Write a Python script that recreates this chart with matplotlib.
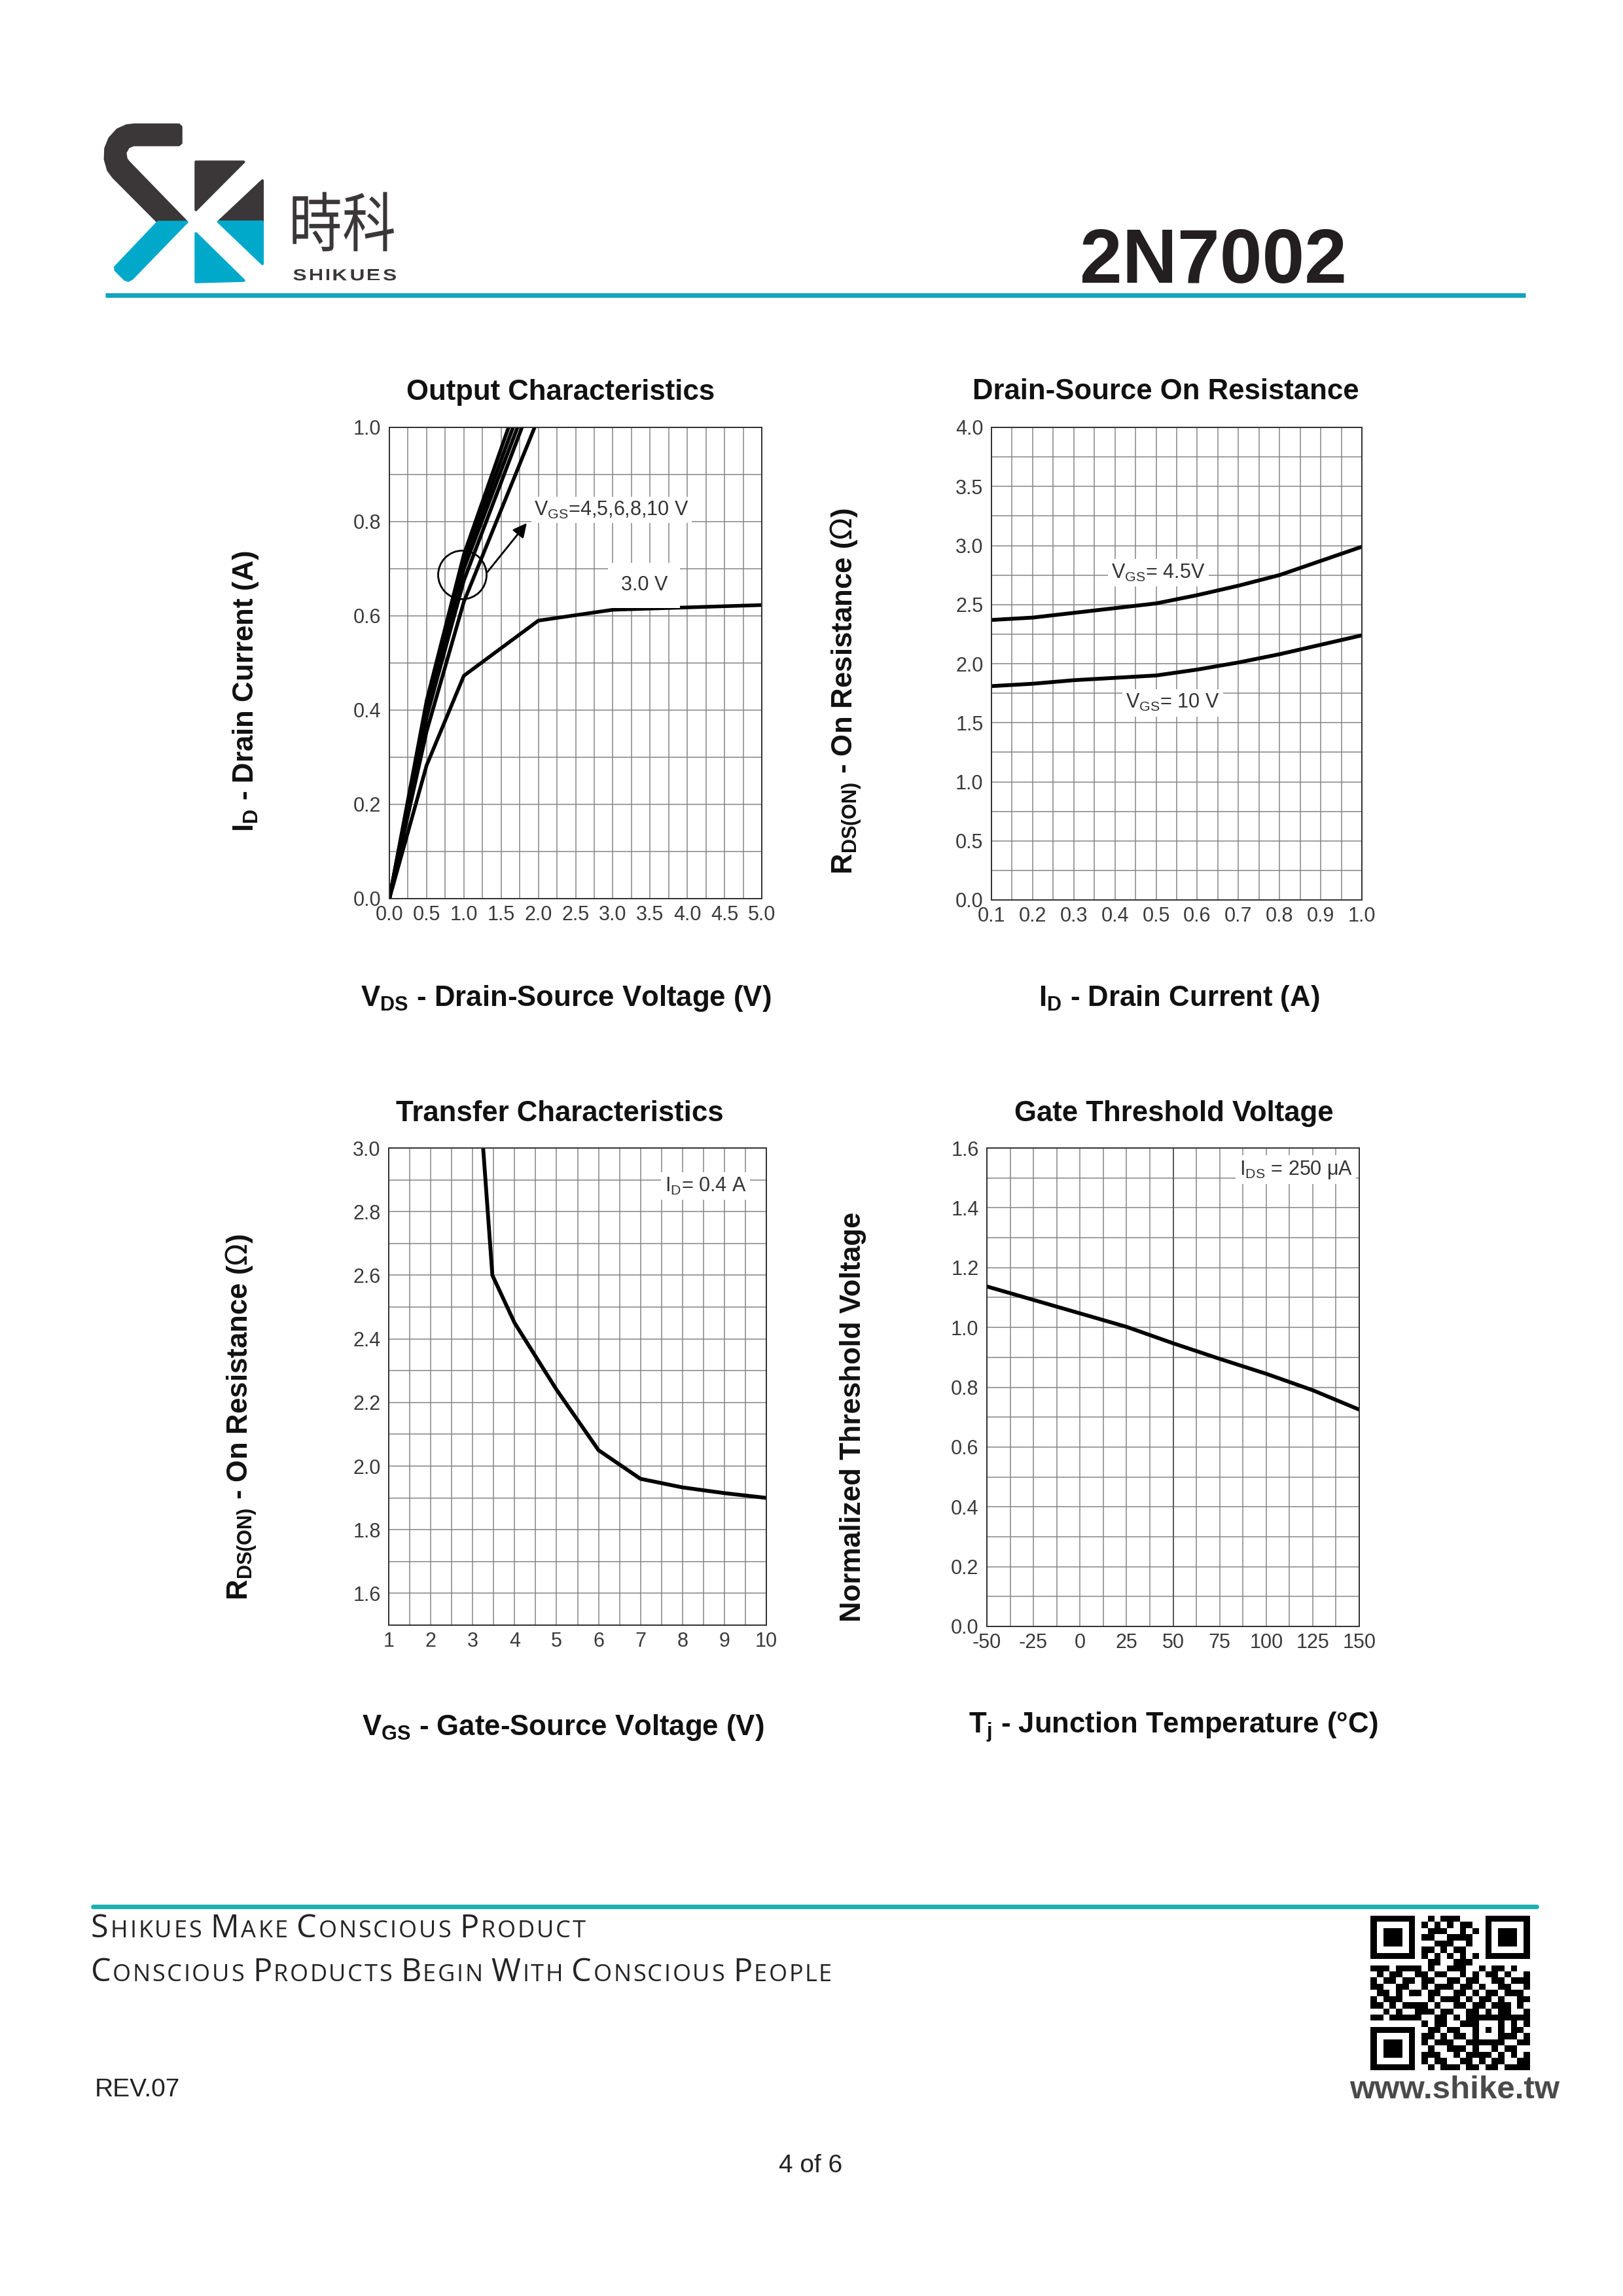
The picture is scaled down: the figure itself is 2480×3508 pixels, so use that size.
import matplotlib
matplotlib.use("Agg")
import matplotlib.pyplot as plt
import numpy as np
from matplotlib import font_manager
from matplotlib.font_manager import FontProperties
from matplotlib.patches import Ellipse, Polygon, PathPatch
from matplotlib.textpath import TextPath
from matplotlib.transforms import Affine2D

W, H, DPI = 2480, 3508, 100

_avail = {f.name for f in font_manager.fontManager.ttflist}
SANS = "Liberation Sans"
NARROW = "Liberation Sans Narrow" if "Liberation Sans Narrow" in _avail else SANS
CJK = "Noto Sans CJK TC"
FOOT = "Open Sans" if "Open Sans" in _avail else SANS

# ---- chart data ---------------------------------------------------------------

# Output characteristics: VDS (V) -> ID (A)
out_vds_3v = [0.0, 0.5, 1.0, 2.0, 3.0, 5.0]
out_id_3v = [0.0, 0.283, 0.473, 0.59, 0.613, 0.623]
out_vds_4v = [0.0, 0.5, 1.0, 1.95]
out_id_4v = [0.0, 0.355, 0.63, 1.0]
out_vds_5v = [0.0, 0.5, 1.0, 1.78]
out_id_5v = [0.0, 0.385, 0.675, 1.0]
out_vds_6v = [0.0, 0.5, 1.0, 1.72]
out_id_6v = [0.0, 0.40, 0.70, 1.0]
out_vds_8v = [0.0, 0.5, 1.0, 1.66]
out_id_8v = [0.0, 0.41, 0.715, 1.0]
out_vds_10v = [0.0, 0.5, 1.0, 1.60]
out_id_10v = [0.0, 0.42, 0.73, 1.0]

# Drain-source on resistance: ID (A) -> RDS(on) (ohm)
ron_id = [0.1, 0.2, 0.3, 0.4, 0.5, 0.6, 0.7, 0.8, 0.9, 1.0]
ron_vgs45 = [2.37, 2.39, 2.43, 2.47, 2.51, 2.58, 2.66, 2.75, 2.87, 2.99]
ron_vgs10 = [1.81, 1.83, 1.86, 1.88, 1.90, 1.95, 2.01, 2.08, 2.16, 2.24]

# Transfer characteristics: VGS (V) -> RDS(on) (ohm)
tr_vgs = [3.25, 3.47, 4.0, 5.0, 6.0, 7.0, 8.0, 9.0, 10.0]
tr_ron = [3.0, 2.60, 2.45, 2.24, 2.05, 1.96, 1.933, 1.915, 1.90]

# Gate threshold voltage: Tj (C) -> normalized VGS(th)
gt_tj = [-50, -25, 0, 25, 50, 75, 100, 125, 150]
gt_vth = [1.137, 1.092, 1.047, 1.002, 0.947, 0.895, 0.845, 0.79, 0.725]

# tick labels
out_xlabels = ["0.0", "0.5", "1.0", "1.5", "2.0", "2.5", "3.0", "3.5", "4.0", "4.5", "5.0"]
out_ylabels = ["0.0", "0.2", "0.4", "0.6", "0.8", "1.0"]
ron_xlabels = ["0.1", "0.2", "0.3", "0.4", "0.5", "0.6", "0.7", "0.8", "0.9", "1.0"]
ron_ylabels = ["0.0", "0.5", "1.0", "1.5", "2.0", "2.5", "3.0", "3.5", "4.0"]
tr_xlabels = ["1", "2", "3", "4", "5", "6", "7", "8", "9", "10"]
tr_ylabels = ["1.6", "1.8", "2.0", "2.2", "2.4", "2.6", "2.8", "3.0"]
gt_xlabels = ["-50", "-25", "0", "25", "50", "75", "100", "125", "150"]
gt_ylabels = ["0.0", "0.2", "0.4", "0.6", "0.8", "1.0", "1.2", "1.4", "1.6"]

# QR code data modules (finder / timing / alignment drawn on top)
qr_rows = [
    "0000000001011100000000000",
    "0000000010101011000000000",
    "0000000001110010100000000",
    "0000000011001111000000000",
    "0000000000111001000000000",
    "0000000011010110000000000",
    "0000000000000000000000000",
    "0000000001100111000000000",
    "1110110101001110010110100",
    "0101100110110010101101001",
    "1011011011001101100110111",
    "1100110010111011010011001",
    "0110101101100110101101110",
    "1011100001011101011010011",
    "1101011110100110110111010",
    "0010100111011001101011001",
    "1101111100110101001111111",
    "0000000010110011100110101",
    "0000000001101100101010110",
    "0000000011010110100101101",
    "0000000010111001101110011",
    "0000000001001110100101100",
    "0000000011100101111010101",
    "0000000010110011010110011",
    "0000000001011101101101111",
]

DARK = "#3b3738"
CYAN = "#00a9ca"
TICK_C = "#3a3a3a"
GRID_C = "#858585"


def fx(px):
    return px / W


def fy(py):
    return 1 - py / H


fig = plt.figure(figsize=(W / DPI, H / DPI), dpi=DPI)
fig.patch.set_facecolor("white")
renderer = fig.canvas.get_renderer()


# ---- header -------------------------------------------------------------------

logo = fig.add_axes([fx(140), fy(480), 520 / W, 320 / H])
logo.set_xlim(0, 1560)
logo.set_ylim(960, 0)
logo.axis("off")

s_dark = [(400, 92), (410, 102), (410, 175), (400, 184), (192, 184), (168, 194),
          (154, 220), (158, 248), (170, 264), (436, 538), (305, 538), (100, 332),
          (76, 300), (62, 250), (64, 200), (82, 155), (118, 115), (160, 96), (195, 92)]
s_cyan = [(305, 538), (436, 538), (186, 796), (168, 806), (152, 800), (110, 758), (108, 745)]
tri_dark_a = [(478, 262), (697, 262), (478, 482)]
tri_dark_b = [(782, 348), (782, 538), (582, 538)]
tri_cyan_a = [(582, 538), (782, 538), (782, 728)]
tri_cyan_b = [(478, 590), (478, 812), (698, 806)]
for pts, col in [(s_dark, DARK), (s_cyan, CYAN), (tri_dark_a, DARK), (tri_dark_b, DARK),
                 (tri_cyan_a, CYAN), (tri_cyan_b, CYAN)]:
    logo.add_patch(Polygon(pts, closed=True, facecolor=col, edgecolor=col,
                           lw=3, joinstyle="round"))


def fit_text_path(ax, text, prop, box, color):
    """Place a text outline so it fills box=(x0, y0, x1, y1) in data coords (y down)."""
    tp = TextPath((0, 0), text, prop=prop, size=100)
    ext = tp.get_extents()
    x0, y0, x1, y1 = box
    sx = (x1 - x0) / ext.width
    sy = (y1 - y0) / ext.height
    tr = Affine2D().translate(-ext.x0, -ext.y1).scale(sx, -sy).translate(x0, y0)
    ax.add_patch(PathPatch(tr.transform_path(tp), facecolor=color, edgecolor="none"))


fit_text_path(logo, "時科", FontProperties(family=CJK, weight="medium"),
              (922, 400, 1386, 672), DARK)

# SHIKUES, wide letters with tracking
_letters = "SHIKUES"
_prop = FontProperties(family=SANS, weight="bold")
_paths = [TextPath((0, 0), ch, prop=_prop, size=100) for ch in _letters]
_cap = 52.0
_scale = _cap / max(p.get_extents().height for p in _paths)
_stretch = 1.3
_widths = [p.get_extents().width * _scale * _stretch for p in _paths]
_gap = (1395 - 925 - sum(_widths)) / (len(_letters) - 1)
_x = 925
for p, w in zip(_paths, _widths):
    e = p.get_extents()
    tr = (Affine2D().translate(-e.x0, 0).scale(_scale * _stretch, -_scale)
          .translate(_x, 805))
    logo.add_patch(PathPatch(tr.transform_path(p), facecolor=DARK, edgecolor="none"))
    _x += w + _gap

fig.text(fx(2058), fy(432), "2N7002", fontsize=84, fontweight="bold", family=SANS,
         color="#231f20", ha="right", va="baseline")

fig.add_artist(plt.Line2D([fx(161), fx(2331)], [fy(451), fy(451)], color="#12a3be",
                          lw=5, solid_capstyle="butt"))


# ---- charts -------------------------------------------------------------------

def add_chart(left, top, right, bottom):
    return fig.add_axes([fx(left), fy(bottom), (right - left) / W, (bottom - top) / H])


def style_chart(ax, xlim, ylim, xmaj, xmin, ymaj, ymin, xlabels, ylabels):
    ax.set_xlim(*xlim)
    ax.set_ylim(*ylim)
    ax.set_xticks(xmaj)
    ax.set_xticklabels(xlabels)
    ax.set_xticks(xmin, minor=True)
    ax.set_yticks(ymaj)
    ax.set_yticklabels(ylabels)
    ax.set_yticks(ymin, minor=True)
    ax.grid(True, which="both", color=GRID_C, lw=1.1)
    ax.set_axisbelow(True)
    ax.tick_params(which="both", length=0)
    ax.tick_params(axis="x", pad=7, labelsize=22, labelcolor=TICK_C)
    ax.tick_params(axis="y", pad=9, labelsize=22, labelcolor=TICK_C)
    for lab in ax.get_xticklabels() + ax.get_yticklabels():
        lab.set_family(NARROW)
    for s in ax.spines.values():
        s.set_color("#303030")
        s.set_linewidth(1.4)


def chart_texts(title, tx, ty, ylabel, yx, yy, xlabel, xx, xy):
    kw = dict(fontsize=31.5, fontweight="bold", family=SANS, ha="center", va="center",
              color="#111111")
    fig.text(fx(tx), fy(ty), title, **kw)
    fig.text(fx(yx), fy(yy), ylabel, rotation=90, **kw)
    fig.text(fx(xx), fy(xy), xlabel, **kw)


note_kw = dict(fontsize=22, family=NARROW, color="#333333", ha="center", va="center")

# Output characteristics
ax1 = add_chart(595, 653, 1164, 1373)
style_chart(ax1, (0, 5), (0, 1.0), np.arange(0, 5.01, 0.5), np.arange(0, 5.01, 0.25),
            np.arange(0, 1.01, 0.2), np.arange(0, 1.01, 0.1), out_xlabels, out_ylabels)
for xs, ys in [(out_vds_4v, out_id_4v), (out_vds_5v, out_id_5v), (out_vds_6v, out_id_6v),
               (out_vds_8v, out_id_8v), (out_vds_10v, out_id_10v)]:
    ax1.plot(xs, ys, color="black", lw=4.0, solid_joinstyle="round")
ax1.plot(out_vds_3v, out_id_3v, color="black", lw=4.0, solid_joinstyle="round")
ax1.add_patch(Ellipse((0.98, 0.687), width=0.65, height=0.103, fill=False,
                      edgecolor="black", lw=2.0, zorder=4))
ax1.annotate("", xy=(1.86, 0.80), xytext=(1.30, 0.69),
             arrowprops=dict(arrowstyle="-|>", color="black", lw=2.0, mutation_scale=32))
ax1.text(2.98, 0.825, r"V$_{\mathregular{GS}}$=4,5,6,8,10 V",
         bbox=dict(facecolor="white", edgecolor="none", pad=3), **note_kw)
ax1.text(3.42, 0.665, "3.0 V",
         bbox=dict(facecolor="white", edgecolor="none", pad=14), **note_kw)
chart_texts("Output Characteristics", 857, 599,
            r"I$_{\mathregular{D}}$ - Drain Current (A)", 376, 1056,
            r"V$_{\mathregular{DS}}$ - Drain-Source Voltage (V)", 865, 1525)

# Drain-source on resistance
ax2 = add_chart(1515, 653, 2081, 1375)
style_chart(ax2, (0.1, 1.0), (0, 4.0), np.arange(0.1, 1.001, 0.1), np.arange(0.1, 1.001, 0.05),
            np.arange(0, 4.01, 0.5), np.arange(0, 4.01, 0.25), ron_xlabels, ron_ylabels)
ax2.plot(ron_id, ron_vgs45, color="black", lw=4.2, solid_joinstyle="round")
ax2.plot(ron_id, ron_vgs10, color="black", lw=4.2, solid_joinstyle="round")
ax2.text(0.505, 2.77, r"V$_{\mathregular{GS}}$= 4.5V",
         bbox=dict(facecolor="white", edgecolor="none", pad=4), **note_kw)
ax2.text(0.54, 1.67, r"V$_{\mathregular{GS}}$= 10 V",
         bbox=dict(facecolor="white", edgecolor="none", pad=4), **note_kw)
chart_texts("Drain-Source On Resistance", 1781, 599,
            r"R$_{\mathregular{DS(ON)}}$ - On Resistance ($\Omega$)", 1293, 1056,
            r"I$_{\mathregular{D}}$ - Drain Current (A)", 1802, 1525)

# Transfer characteristics
ax3 = add_chart(594, 1754, 1171, 2483)
style_chart(ax3, (1, 10), (1.5, 3.0), np.arange(1, 10.01, 1), np.arange(1, 10.01, 0.5),
            np.arange(1.6, 3.001, 0.2), np.arange(1.5, 3.001, 0.1), tr_xlabels, tr_ylabels)
ax3.plot(tr_vgs, tr_ron, color="black", lw=4.2, solid_joinstyle="round")
ax3.text(8.55, 2.88, r"I$_{\mathregular{D}}$= 0.4 A",
         bbox=dict(facecolor="white", edgecolor="none", pad=4), **note_kw)
chart_texts("Transfer Characteristics", 855, 1702,
            r"R$_{\mathregular{DS(ON)}}$ - On Resistance ($\Omega$)", 369, 2165,
            r"V$_{\mathregular{GS}}$ - Gate-Source Voltage (V)", 860, 2639)

# Gate threshold voltage
ax4 = add_chart(1508, 1754, 2077, 2485)
style_chart(ax4, (-50, 150), (0, 1.6), np.arange(-50, 150.1, 25), np.arange(-50, 150.1, 12.5),
            np.arange(0, 1.601, 0.2), np.arange(0, 1.601, 0.1), gt_xlabels, gt_ylabels)
ax4.axvline(50, color="#5a5a5a", lw=1.4, zorder=0.9)
ax4.plot(gt_tj, gt_vth, color="black", lw=4.2, solid_joinstyle="round")
ax4.text(116, 1.527, r"I$_{\mathregular{DS}}$ = 250 μA",
         bbox=dict(facecolor="white", edgecolor="none", pad=4), **note_kw)
chart_texts("Gate Threshold Voltage", 1794, 1702,
            "Normalized Threshold Voltage", 1304, 2165,
            r"T$_{\mathregular{j}}$ - Junction Temperature (°C)", 1793, 2639)


# ---- footer -------------------------------------------------------------------

fig.add_artist(plt.Line2D([fx(142), fx(2348)], [fy(2913), fy(2913)], color="#1db1b4",
                          lw=5, solid_capstyle="round"))


def small_caps(x0, x1, y, text, big, small, color="#262324"):
    """Small-caps line: first letter of each word larger, tracking fitted to x0..x1."""
    words = text.split(" ")
    items = []
    for wi, word in enumerate(words):
        for i, ch in enumerate(word):
            t = fig.text(0, fy(y), ch.upper(), fontsize=big if i == 0 else small,
                         family=FOOT, color=color, ha="left", va="baseline")
            items.append((t, t.get_window_extent(renderer).width, i == 0 and wi > 0))
    space = big * DPI / 72 * 0.22
    natural = sum(w for _, w, _ in items) + space * (len(words) - 1)
    gap = (x1 - x0 - natural) / (len(items) - 1)
    cur = x0
    for t, w, new_word in items:
        if new_word:
            cur += space
        t.set_x(fx(cur))
        cur += w + gap


small_caps(139, 895, 2960, "Shikues Make Conscious Product", 35, 26)
small_caps(139, 1271, 3027, "Conscious Products Begin With Conscious People", 35, 26)

fig.text(fx(145), fy(3203), "REV.07", fontsize=28, family=NARROW, color="#222222",
         ha="left", va="baseline")
fig.text(fx(1239), fy(3319), "4 of 6", fontsize=28, family=NARROW, color="#222222",
         ha="center", va="baseline")

qr = np.array([[int(c) for c in row] for row in qr_rows])
n = qr.shape[0]
for r0, c0 in [(0, 0), (0, n - 7), (n - 7, 0)]:
    qr[max(r0 - 1, 0):r0 + 8, max(c0 - 1, 0):c0 + 8] = 0
    qr[r0:r0 + 7, c0:c0 + 7] = 1
    qr[r0 + 1:r0 + 6, c0 + 1:c0 + 6] = 0
    qr[r0 + 2:r0 + 5, c0 + 2:c0 + 5] = 1
for k in range(8, n - 8):
    qr[6, k] = 1 - k % 2
    qr[k, 6] = 1 - k % 2
qr[16:21, 16:21] = 1
qr[17:20, 17:20] = 0
qr[18, 18] = 1

ax_qr = fig.add_axes([fx(2094), fy(3163), 244 / W, 236 / H])
ax_qr.imshow(qr, cmap="gray_r", interpolation="nearest", vmin=0, vmax=1, aspect="auto")
ax_qr.axis("off")

fig.text(fx(2223), fy(3206), "www.shike.tw", fontsize=35.5, fontweight="bold", family=SANS,
         color="#4a4a4a", ha="center", va="baseline")

fig.savefig("out.png", dpi=DPI, facecolor="white")
